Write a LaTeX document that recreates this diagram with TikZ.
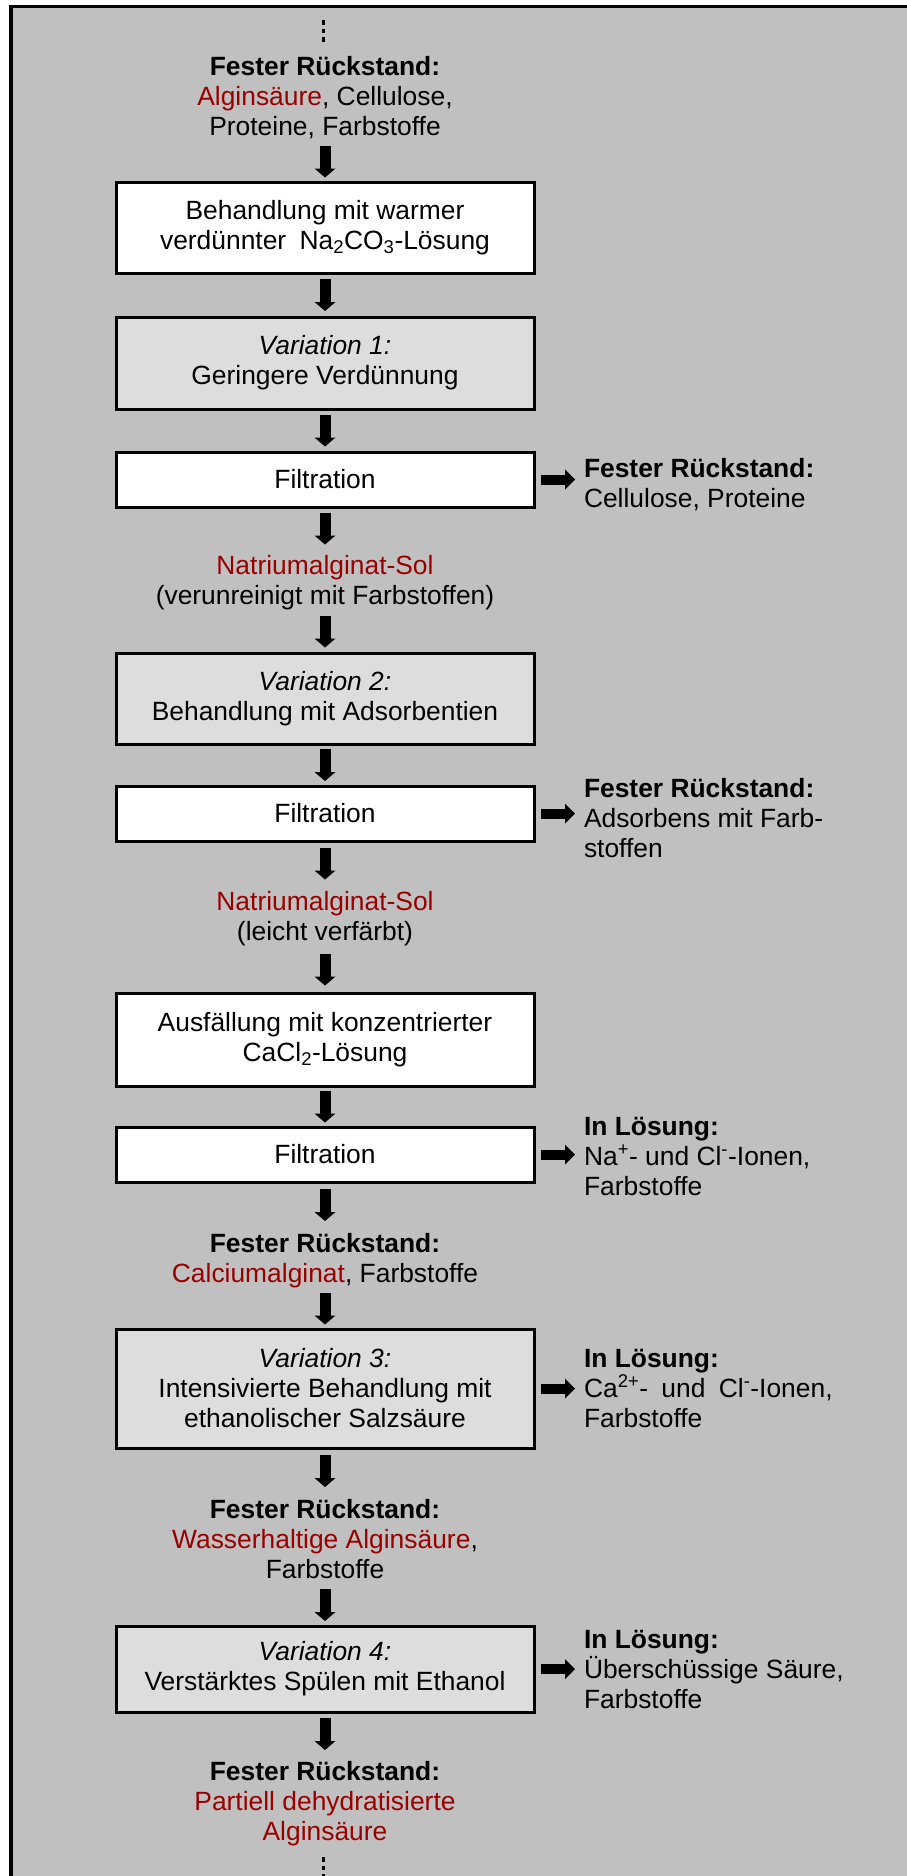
\documentclass[tikz,border=0pt]{standalone}
\usepackage{fontspec}
\setmainfont{Liberation Sans}
\usetikzlibrary{arrows.meta}
\definecolor{panelgray}{HTML}{C0C0C0}
\definecolor{varfill}{HTML}{DDDDDD}
\definecolor{algred}{HTML}{990000}
% strut that fixes the height/depth of every free text line
\newcommand\sst{\rule[-6pt]{0pt}{30pt}}
\newcommand\alg[1]{\textcolor{algred}{#1}}
\newcommand\fr{\textbf{Fester Rückstand:}}
\newcommand\il{\textbf{In Lösung:}}

\begin{document}
\begin{tikzpicture}[x=1pt,y=-1pt,
  txt/.style={font=\fontsize{26.4}{30}\selectfont, inner sep=0pt, outer sep=0pt},
  flow/.style={txt, anchor=north, align=center},
  side/.style={txt, anchor=north west, align=left},
  stepbox/.style={txt, draw=black, line width=3pt, fill=white, minimum width=418pt, align=center},
  varbox/.style={stepbox, fill=varfill},
  darr/.style={line width=11pt, -{Triangle[width=21pt,length=9pt,line width=0pt]}, shorten <=#1, shorten >=#1},
  rarr/.style={line width=10pt, -{Triangle[width=20pt,length=10pt,line width=0pt]}, shorten <=7pt, shorten >=9pt},
]
\useasboundingbox (0,0) rectangle (907,1876);
\clip (0,0) rectangle (907,1876);

% panel
\fill[white] (0,0) rectangle (907,1876);
\fill[panelgray] (11,6.5) rectangle (930,1900);
\draw[line width=3.5pt] (930,6.5) -- (11,6.5) -- (11,1900);

% continuation dots
\foreach \y in {20.5,29,37.5} \fill (321.5,\y) rectangle ++(3.5,4.5);
\foreach \y in {1857,1865.5,1874} \fill (321.5,\y) rectangle ++(3.5,4.5);

% main column
\node[flow] (t0) at (325,51) {\sst\fr\\\sst\alg{Alginsäure}, Cellulose,\\\sst Proteine, Farbstoffe};
\node[stepbox, minimum height=91pt] (b1) at (325,227.5) {Behandlung mit warmer\\verdünnter\hspace{6pt} Na\textsubscript{2}CO\textsubscript{3}-Lösung};
\node[varbox, minimum height=92pt] (v1) at (325,363) {\textit{Variation 1:}\\Geringere Verdünnung};
\node[stepbox, minimum height=55pt] (f1) at (325,479.5) {Filtration};
\node[flow] (t1) at (325,550) {\sst\alg{Natriumalginat-Sol}\\\sst(verunreinigt mit Farbstoffen)};
\node[varbox, minimum height=91pt] (v2) at (325,698.5) {\textit{Variation 2:}\\Behandlung mit Adsorbentien};
\node[stepbox, minimum height=55pt] (f2) at (325,813.5) {Filtration};
\node[flow] (t2) at (325,886) {\sst\alg{Natriumalginat-Sol}\\\sst(leicht verfärbt)};
\node[stepbox, minimum height=93pt] (a1) at (325,1039.5) {Ausfällung mit konzentrierter\\CaCl\textsubscript{2}-Lösung};
\node[stepbox, minimum height=55pt] (f3) at (325,1154.5) {Filtration};
\node[flow] (t3) at (325,1228) {\sst\fr\\\sst\alg{Calciumalginat}, Farbstoffe};
\node[varbox, minimum height=119pt] (v3) at (325,1388.5) {\textit{Variation 3:}\\Intensivierte Behandlung mit\\ethanolischer Salzsäure};
\node[flow] (t4) at (325,1494) {\sst\fr\\\sst\alg{Wasserhaltige Alginsäure},\\\sst Farbstoffe};
\node[varbox, minimum height=86pt] (v4) at (325,1669) {\textit{Variation 4:}\\Verstärktes Spülen mit Ethanol};
\node[flow] (t5) at (325,1756) {\sst\fr\\\sst\alg{Partiell dehydratisierte}\\\sst\alg{Alginsäure}};

% side outputs
\node[side] (r1) at (584,453) {\sst\fr\\\sst Cellulose, Proteine};
\node[side] (r2) at (584,773) {\sst\fr\\\sst Adsorbens mit Farb-\\\sst stoffen};
\node[side] (r3) at (584,1111) {\sst\il\\\sst Na\textsuperscript{+}- und Cl\textsuperscript{-}-Ionen,\\\sst Farbstoffe};
\node[side] (r4) at (584,1343) {\sst\il\\\sst Ca\textsuperscript{2+}-\hspace{6pt} und\hspace{6pt} Cl\textsuperscript{-}-Ionen,\\\sst Farbstoffe};
\node[side] (r5) at (584,1624) {\sst\il\\\sst Überschüssige Säure,\\\sst Farbstoffe};

% downward flow
\draw[darr=4.5pt] (t0) -- (b1);
\draw[darr=6pt] (b1) -- (v1);
\draw[darr=5.5pt] (v1) -- (f1);
\draw[darr=5.5pt] (f1) -- (t1);
\draw[darr=5.5pt] (t1) -- (v2);
\draw[darr=5pt] (v2) -- (f2);
\draw[darr=6.5pt] (f2) -- (t2);
\draw[darr=7.5pt] (t2) -- (a1);
\draw[darr=4.5pt] (a1) -- (f3);
\draw[darr=7pt] (f3) -- (t3);
\draw[darr=4.5pt] (t3) -- (v3);
\draw[darr=7pt] (v3) -- (t4);
\draw[darr=5pt] (t4) -- (v4);
\draw[darr=6pt] (v4) -- (t5);

% side arrows
\draw[rarr] (f1.east) -- (f1.east -| r1.west);
\draw[rarr] (f2.east) -- (f2.east -| r2.west);
\draw[rarr] (f3.east) -- (f3.east -| r3.west);
\draw[rarr] (v3.east) -- (v3.east -| r4.west);
\draw[rarr] (v4.east) -- (v4.east -| r5.west);
\end{tikzpicture}
\end{document}
